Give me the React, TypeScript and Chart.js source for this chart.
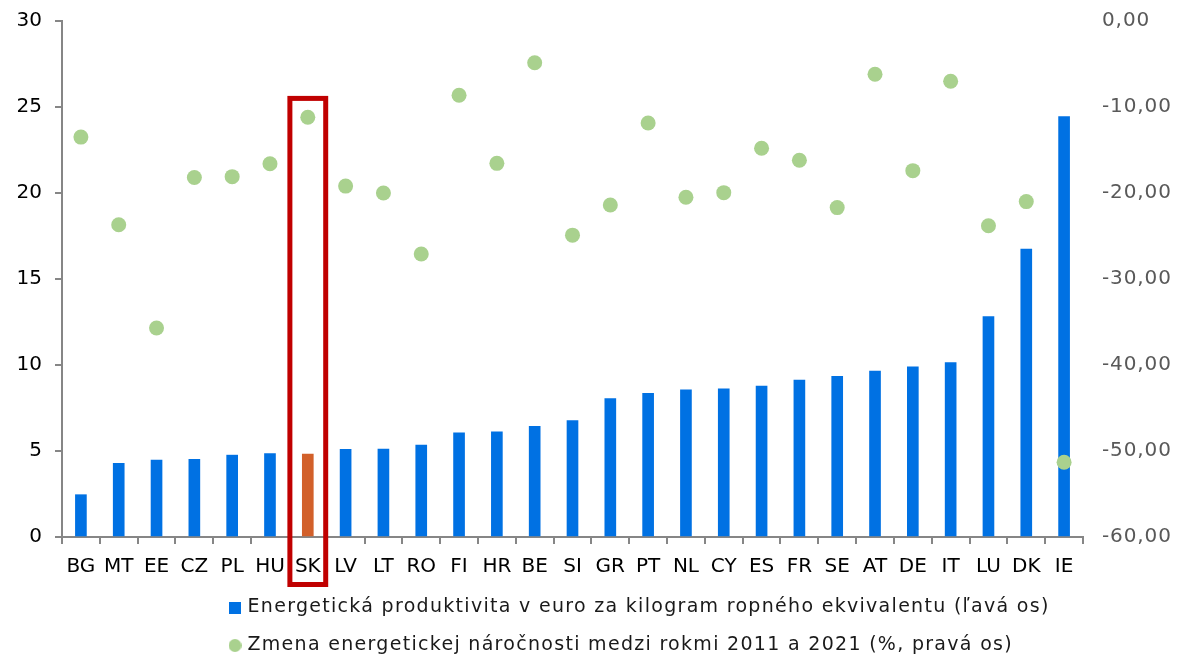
import React, { useEffect, useRef } from "react";
import { Chart, registerables } from "chart.js";

Chart.register(...registerables);

const categories = ["BG","MT","EE","CZ","PL","HU","SK","LV","LT","RO","FI","HR","BE","SI","GR","PT","NL","CY","ES","FR","SE","AT","DE","IT","LU","DK","IE"];
const productivity = [2.46,4.29,4.47,4.51,4.76,4.85,4.82,5.09,5.11,5.34,6.05,6.11,6.44,6.77,8.05,8.36,8.55,8.61,8.78,9.13,9.34,9.65,9.90,10.14,12.82,16.74,24.44];
const intensityChange = [-13.5,-23.7,-35.7,-18.2,-18.1,-16.6,-11.2,-19.2,-20.0,-27.1,-8.64,-16.55,-4.85,-24.9,-21.4,-11.86,-20.5,-19.96,-14.8,-16.2,-21.7,-6.2,-17.4,-7.0,-23.8,-21.0,-51.3];
const highlight = "SK";
const leftTicks = { min: 0, max: 30, step: 5 };
const rightTicks = { min: -60, max: 0, step: 10 };
const barLabel = "Energetická produktivita v euro za kilogram ropného ekvivalentu (ľavá os)";
const dotLabel = "Zmena energetickej náročnosti medzi rokmi 2011 a 2021 (%, pravá os)";

const BLUE = "#0071E3";
const ORANGE = "#D2602A";
const GREEN = "#A9D18E";
const RED = "#C00000";
const AXIS = "#868686";
const FONT = "'DejaVu Sans', Verdana, sans-serif";

function withSpacing(obj: any, method: string, spacing: string) {
  if (!obj || obj["__ls_" + method]) return;
  const orig = obj[method];
  obj["__ls_" + method] = true;
  obj[method] = function (...args: any[]) {
    const ctx = this.ctx || (this.chart && this.chart.ctx);
    const prev = ctx.letterSpacing;
    ctx.letterSpacing = spacing;
    try {
      return orig.apply(this, args);
    } finally {
      ctx.letterSpacing = prev || "0px";
    }
  };
}

export default function App() {
  const ref = useRef<HTMLCanvasElement | null>(null);
  useEffect(() => {
    const canvas = ref.current;
    if (!canvas) return;

    const sq = document.createElement("canvas");
    sq.width = 12; sq.height = 12;
    const sctx = sq.getContext("2d")!;
    sctx.fillStyle = BLUE; sctx.fillRect(0, 0, 12, 12);
    const ci = document.createElement("canvas");
    ci.width = 13; ci.height = 13;
    const cctx = ci.getContext("2d")!;
    cctx.fillStyle = GREEN; cctx.beginPath(); cctx.arc(6.5, 6.5, 6.5, 0, Math.PI * 2); cctx.fill();

    const hiIndex = categories.indexOf(highlight);

    const boxPlugin = {
      id: "hiBox",
      afterLayout(chart: any) {
        if (chart.legend) {
          chart.legend.left = 213;
          withSpacing(chart.legend, "draw", "1.3px");
        }
        withSpacing(chart.scales.y1, "drawLabels", "0.9px");
      },
      afterDraw(chart: any) {
        const xs = chart.scales.x;
        const ys = chart.scales.y;
        const ctx = chart.ctx;
        const cx = xs.getPixelForValue(hiIndex);
        const half = xs.width / categories.length / 2 - 1;
        const top = ys.getPixelForValue(25.5);
        const bottom = chart.chartArea.bottom + 47.5;
        ctx.save();
        ctx.strokeStyle = RED;
        ctx.lineWidth = 5;
        ctx.strokeRect(cx - half, top, half * 2, bottom - top);
        ctx.restore();
      },
    };

    const chart = new Chart(canvas, {
      type: "bar",
      data: {
        labels: categories,
        datasets: [
          {
            type: "line",
            label: dotLabel,
            data: intensityChange,
            yAxisID: "y1",
            showLine: false,
            pointRadius: 7.5,
            pointHoverRadius: 7.5,
            pointBackgroundColor: GREEN,
            pointBorderWidth: 0,
            borderWidth: 0,
            borderColor: GREEN,
            backgroundColor: GREEN,
          } as any,
          {
            type: "bar",
            label: barLabel,
            data: productivity,
            yAxisID: "y",
            backgroundColor: categories.map((c) => (c === highlight ? ORANGE : BLUE)),
            barThickness: 11,
          },
        ],
      },
      options: {
        responsive: false,
        animation: false,
        layout: { padding: { top: 21, left: 0, right: 0, bottom: 0 } },
        plugins: {
          tooltip: { enabled: false },
          legend: {
            position: "bottom",
            align: "start",
            labels: {
              usePointStyle: true,
              pointStyleWidth: 6,
              boxHeight: 12,
              padding: 19,
              color: "#1a1a1a",
              font: { family: FONT, size: 19 },
              generateLabels: (ch: any) => {
                const items = Chart.defaults.plugins.legend.labels.generateLabels(ch);
                return items
                  .map((it: any) => ({ ...it, pointStyle: it.datasetIndex === 0 ? ci : sq, lineWidth: 0 }))
                  .sort((a: any, b: any) => b.datasetIndex - a.datasetIndex);
              },
            },
          },
        },
        scales: {
          x: {
            offset: true,
            grid: { offset: true, drawOnChartArea: false, drawTicks: true, tickLength: 7, color: AXIS, lineWidth: 2 },
            border: { display: true, color: AXIS, width: 2 },
            ticks: { color: "#000", font: { family: FONT, size: 20 }, padding: 11, maxRotation: 0, autoSkip: false },
            afterFit: (s: any) => { s.height = 42; },
          },
          y: {
            position: "left",
            min: leftTicks.min,
            max: leftTicks.max,
            grid: { drawOnChartArea: false, drawTicks: true, tickLength: 7, color: AXIS, lineWidth: 2 },
            border: { display: true, color: AXIS, width: 2 },
            ticks: { stepSize: leftTicks.step, color: "#000", font: { family: FONT, size: 20 }, padding: 13 },
            afterFit: (s: any) => { s.width = 62; s.paddingTop = 0; s.paddingBottom = 0; },
          },
          y1: {
            position: "right",
            min: rightTicks.min,
            max: rightTicks.max,
            grid: { display: false, drawTicks: false },
            border: { display: false },
            ticks: {
              stepSize: rightTicks.step,
              color: "#595959",
              font: { family: FONT, size: 20 },
              padding: 19,
              callback: (v: any) => Number(v).toFixed(2).replace(".", ","),
            },
            afterFit: (s: any) => { s.width = 95; s.paddingTop = 0; s.paddingBottom = 0; },
          },
        },
      },
      plugins: [boxPlugin],
    });
    return () => chart.destroy();
  }, []);

  return (
    <div style={{ position: "absolute", left: 0, top: 0, width: 1178, height: 658, overflow: "hidden", background: "#fff" }}>
      <canvas ref={ref} width={1178} height={665} style={{ display: "block" }} />
    </div>
  );
}
